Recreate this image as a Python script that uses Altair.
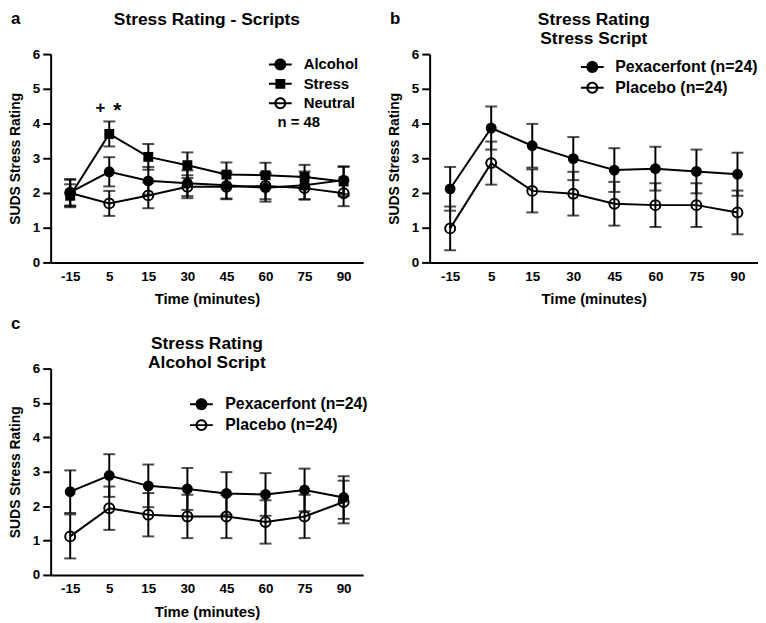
import altair as alt
import pandas as pd

FONT = "Liberation Sans"

times = ["-15", "5", "15", "30", "45", "60", "75", "90"]

# Panel a
a_series = ["Alcohol", "Stress", "Neutral"]
a_alcohol = [2.02, 2.61, 2.35, 2.28, 2.22, 2.15, 2.22, 2.37]
a_alcohol_err = [0.38, 0.42, 0.40, 0.37, 0.38, 0.40, 0.40, 0.40]
a_stress = [1.92, 3.70, 3.04, 2.80, 2.53, 2.51, 2.46, 2.33]
a_stress_err = [0.33, 0.36, 0.37, 0.37, 0.35, 0.36, 0.35, 0.42]
a_neutral = [2.00, 1.70, 1.93, 2.18, 2.18, 2.20, 2.14, 1.99]
a_neutral_err = [0.38, 0.36, 0.37, 0.33, 0.36, 0.38, 0.33, 0.37]

# Panel b (stress script)
bc_series = ["Pexacerfont (n=24)", "Placebo (n=24)"]
b_pexa = [2.12, 3.87, 3.36, 2.99, 2.66, 2.70, 2.62, 2.54]
b_pexa_err = [0.63, 0.62, 0.63, 0.62, 0.63, 0.63, 0.63, 0.62]
b_placebo = [0.98, 2.86, 2.06, 1.98, 1.69, 1.65, 1.65, 1.44]
b_placebo_err = [0.63, 0.62, 0.62, 0.63, 0.63, 0.63, 0.63, 0.63]

# Panel c (alcohol script)
c_pexa = [2.42, 2.89, 2.59, 2.50, 2.37, 2.34, 2.47, 2.25]
c_pexa_err = [0.62, 0.62, 0.62, 0.61, 0.62, 0.62, 0.62, 0.62]
c_placebo = [1.12, 1.94, 1.75, 1.70, 1.70, 1.54, 1.70, 2.12]
c_placebo_err = [0.64, 0.63, 0.63, 0.63, 0.63, 0.63, 0.63, 0.62]

# legend glyphs (line + marker), all drawn as filled areas
BAR = "M-1.64,-0.143H1.64V0.143H-1.64Z"
DISK = "M0.857,0A0.857,0.857,0,1,1,-0.857,0A0.857,0.857,0,1,1,0.857,0Z"
HOLE = "M0.571,0A0.571,0.571,0,1,0,-0.571,0A0.571,0.571,0,1,0,0.571,0Z"
SQ = "M-0.714,-0.714H0.714V0.714H-0.714Z"
PATH_FILLED_CIRCLE = BAR + DISK
PATH_OPEN_CIRCLE = BAR + DISK + HOLE
PATH_SQUARE = BAR + SQ


def make_df(names, means, errs):
    rows = []
    for s, m, e in zip(names, means, errs):
        for t, v, d in zip(times, m, e):
            rows.append({"time": t, "series": s, "mean": v, "lo": v - d, "hi": v + d})
    return pd.DataFrame(rows)


def X():
    return alt.X("time:N", sort=times,
                 scale=alt.Scale(type="point", padding=0.5, domain=times),
                 axis=alt.Axis(title="Time (minutes)", labelAngle=0, ticks=False, tickSize=0,
                               labelPadding=7, titlePadding=9, titleFontSize=15))


def Y(field):
    return alt.Y(field, type="quantitative",
                 scale=alt.Scale(domain=[0, 6], nice=False, zero=False),
                 axis=alt.Axis(title="SUDS Stress Rating", values=[0, 1, 2, 3, 4, 5, 6],
                               tickSize=8, labelPadding=3, titlePadding=10, titleFontSize=14))


def label_text(txt, x, y, size, align="center"):
    return alt.Chart(pd.DataFrame({"t": [txt]})).mark_text(
        align=align, baseline="middle", fontSize=size, fontWeight="bold", font=FONT, color="black"
    ).encode(x=alt.value(x), y=alt.value(y), text="t:N")


def panel(df, names, markers, legend_paths, title_lines, title_ys, letter, letter_y,
          width, height, legend_x, legend_y, legend_font, label_offset, row_pad, extras=()):
    base = alt.Chart(df)
    bars = base.mark_rule(color="black", strokeWidth=2).encode(x=X(), y=Y("lo"), y2="hi:Q")
    cap_lo = base.mark_tick(color="black", size=12, thickness=2).encode(x=X(), y=Y("lo"))
    cap_hi = base.mark_tick(color="black", size=12, thickness=2).encode(x=X(), y=Y("hi"))
    line = base.mark_line(color="black", strokeWidth=2).encode(x=X(), y=Y("mean"), detail="series:N")
    layers = [bars, cap_lo, cap_hi, line]
    for s, (shape, filled) in zip(names, markers):
        if filled:
            m = base.transform_filter(alt.datum.series == s).mark_point(
                shape=shape, filled=True, color="black", opacity=1,
                size=120 if shape == "circle" else 100)
        else:
            m = base.transform_filter(alt.datum.series == s).mark_point(
                shape=shape, filled=False, color="black", opacity=1, size=100, strokeWidth=2)
        layers.append(m.encode(x=X(), y=Y("mean")))
    leg = alt.Legend(title=None, orient="none", legendX=legend_x, legendY=legend_y,
                     labelFont=FONT, labelFontSize=legend_font, labelFontWeight="bold",
                     labelColor="black", symbolSize=196, symbolStrokeWidth=0,
                     symbolFillColor="black", symbolOpacity=1, labelOffset=label_offset,
                     rowPadding=row_pad, padding=0)
    legend_layer = base.mark_point(filled=True, color="black", opacity=0, size=196).encode(
        x=X(), y=Y("mean"),
        shape=alt.Shape("series:N", scale=alt.Scale(domain=names, range=legend_paths), legend=leg),
    )
    layers.append(legend_layer)
    layers.extend(extras)
    for txt, ty in zip(title_lines, title_ys):
        layers.append(label_text(txt, width / 2, ty, 17.5))
    layers.append(label_text(letter, -40, letter_y, 17, align="left"))
    return alt.layer(*layers).properties(width=width, height=height)


df_a = make_df(a_series, [a_alcohol, a_stress, a_neutral], [a_alcohol_err, a_stress_err, a_neutral_err])
df_b = make_df(bc_series, [b_pexa, b_placebo], [b_pexa_err, b_placebo_err])
df_c = make_df(bc_series, [c_pexa, c_placebo], [c_pexa_err, c_placebo_err])

ann = pd.DataFrame({"time": ["5", "5", "60"], "v": [4.46, 4.46, 4.03], "txt": ["+", "*", "n = 48"]})
plus = alt.Chart(ann[ann.txt == "+"]).mark_text(fontSize=17, fontWeight="bold", font=FONT, color="black",
                                               baseline="middle", dx=-9).encode(x=X(), y=Y("v"), text="txt:N")
star = alt.Chart(ann[ann.txt == "*"]).mark_text(fontSize=21, fontWeight="bold", font=FONT, color="black",
                                               baseline="middle", dx=8, dy=4).encode(x=X(), y=Y("v"), text="txt:N")
nlab = alt.Chart(ann[ann.txt == "n = 48"]).mark_text(fontSize=15, fontWeight="bold", font=FONT, color="black",
                                                    baseline="middle", align="left", dx=12).encode(x=X(), y=Y("v"), text="txt:N")

pa = panel(df_a, a_series, [("circle", True), ("square", True), ("circle", False)],
           [PATH_FILLED_CIRCLE, PATH_SQUARE, PATH_OPEN_CIRCLE],
           ["Stress Rating - Scripts"], [-34], "a", -35,
           315, 210, 224, 3, 15, 16, 3.5, [plus, star, nlab])
pb = panel(df_b, bc_series, [("circle", True), ("circle", False)],
           [PATH_FILLED_CIRCLE, PATH_OPEN_CIRCLE],
           ["Stress Rating", "Stress Script"], [-34, -15], "b", -35,
           331, 210, 156, 5, 16, 15, 5)
pc = panel(df_c, bc_series, [("circle", True), ("circle", False)],
           [PATH_FILLED_CIRCLE, PATH_OPEN_CIRCLE],
           ["Stress Rating", "Alcohol Script"], [-25, -6], "c", -45,
           315, 208, 144, 28, 16, 16, 5)

chart = alt.concat(pa, pb, pc, columns=2, spacing={"row": 107, "column": 67}, bounds="flush").resolve_scale(
    shape="independent"
).properties(padding=0).configure_view(stroke=None).configure_axis(
    labelFont=FONT, titleFont=FONT, labelFontWeight="bold", titleFontWeight="bold",
    labelColor="black", titleColor="black", domainColor="black", tickColor="black",
    domainWidth=2, tickWidth=2, grid=False, labelFontSize=13.5,
)

chart.save("out.html", embed_options={"renderer": "svg", "actions": False})
